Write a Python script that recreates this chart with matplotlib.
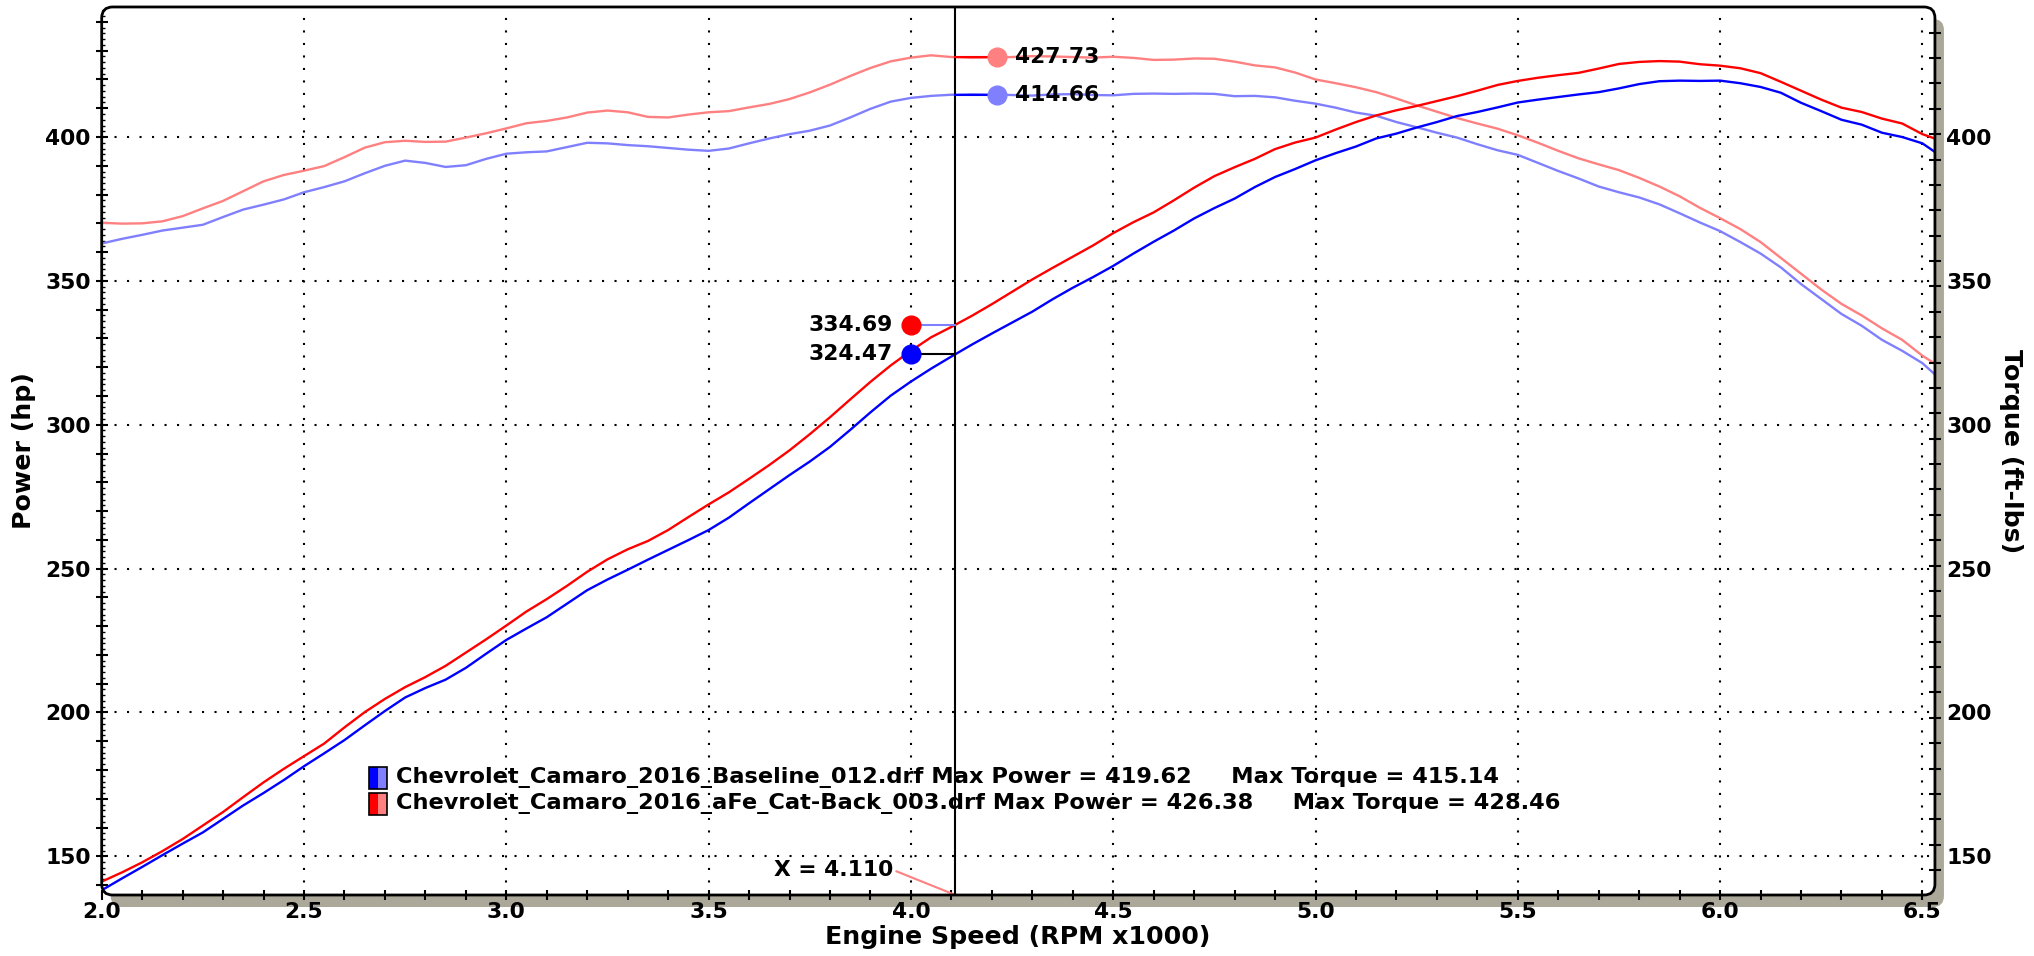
import numpy as np
import matplotlib
matplotlib.use('Agg')
import matplotlib.pyplot as plt
from matplotlib.patches import FancyBboxPatch, Rectangle
from matplotlib.transforms import IdentityTransform
from matplotlib.ticker import MultipleLocator, FixedLocator, FuncFormatter

# engine speed (RPM x1000)
rpm = [2.00, 2.05, 2.10, 2.15, 2.20, 2.25, 2.30, 2.35, 2.40, 2.45,
       2.50, 2.55, 2.60, 2.65, 2.70, 2.75, 2.80, 2.85, 2.90, 2.95,
       3.00, 3.05, 3.10, 3.15, 3.20, 3.25, 3.30, 3.35, 3.40, 3.45,
       3.50, 3.55, 3.60, 3.65, 3.70, 3.75, 3.80, 3.85, 3.90, 3.95,
       4.00, 4.05, 4.10, 4.15, 4.20, 4.25, 4.30, 4.35, 4.40, 4.45,
       4.50, 4.55, 4.60, 4.65, 4.70, 4.75, 4.80, 4.85, 4.90, 4.95,
       5.00, 5.05, 5.10, 5.15, 5.20, 5.25, 5.30, 5.35, 5.40, 5.45,
       5.50, 5.55, 5.60, 5.65, 5.70, 5.75, 5.80, 5.85, 5.90, 5.95,
       6.00, 6.05, 6.10, 6.15, 6.20, 6.25, 6.30, 6.35, 6.40, 6.45,
       6.50, 6.53]

# baseline run
power_base = [138.2, 142.3, 146.3, 150.4, 154.4, 158.3, 163.0, 167.7, 172.0, 176.5,
              181.3, 185.8, 190.4, 195.5, 200.5, 205.2, 208.5, 211.4, 215.5, 220.4,
              225.2, 229.2, 233.1, 237.8, 242.5, 246.2, 249.6, 253.1, 256.5, 259.9,
              263.4, 267.7, 272.7, 277.6, 282.5, 287.2, 292.3, 298.2, 304.3, 310.1,
              315.0, 319.5, 323.7, 327.8, 331.7, 335.5, 339.3, 343.6, 347.6, 351.3,
              355.2, 359.5, 363.6, 367.5, 371.7, 375.3, 378.6, 382.6, 386.1, 388.9,
              391.9, 394.4, 396.7, 399.5, 401.2, 403.3, 405.2, 407.3, 408.7, 410.3,
              412.0, 413.0, 413.9, 414.8, 415.6, 416.9, 418.4, 419.4, 419.6, 419.5,
              419.6, 418.7, 417.4, 415.4, 411.9, 409.0, 406.0, 404.3, 401.5, 400.0,
              397.8, 394.9]
torque_base = [363.0, 364.6, 366.0, 367.5, 368.5, 369.5, 372.2, 374.8, 376.5, 378.3,
               380.8, 382.6, 384.6, 387.4, 390.0, 391.8, 391.0, 389.6, 390.2, 392.4,
               394.2, 394.7, 395.0, 396.5, 398.0, 397.8, 397.2, 396.8, 396.2, 395.6,
               395.2, 396.0, 397.8, 399.5, 401.0, 402.2, 404.0, 406.8, 409.8, 412.3,
               413.6, 414.3, 414.7, 414.9, 414.8, 414.6, 414.4, 414.8, 414.9, 414.6,
               414.5, 415.0, 415.1, 415.0, 415.1, 415.0, 414.2, 414.3, 413.8, 412.6,
               411.6, 410.2, 408.5, 407.4, 405.2, 403.4, 401.5, 399.8, 397.5, 395.4,
               393.8, 391.0, 388.2, 385.6, 382.8, 380.8, 379.0, 376.6, 373.5, 370.3,
               367.3, 363.5, 359.5, 354.7, 348.9, 343.7, 338.5, 334.4, 329.5, 325.7,
               321.4, 317.6]

# aFe cat-back run
power_afe = [141.2, 144.4, 147.9, 151.8, 156.0, 160.7, 165.4, 170.6, 175.7, 180.4,
             184.8, 189.2, 194.8, 200.1, 204.7, 208.8, 212.3, 216.2, 220.8, 225.4,
             230.2, 235.1, 239.4, 244.0, 248.9, 253.2, 256.7, 259.6, 263.4, 267.9,
             272.3, 276.5, 281.2, 286.0, 291.1, 296.7, 302.6, 308.8, 314.9, 320.6,
             325.7, 330.4, 334.0, 337.8, 341.9, 346.2, 350.5, 354.5, 358.4, 362.3,
             366.6, 370.4, 373.8, 378.0, 382.4, 386.4, 389.5, 392.4, 395.8, 398.1,
             399.8, 402.6, 405.2, 407.5, 409.3, 410.8, 412.5, 414.2, 416.1, 418.1,
             419.5, 420.6, 421.5, 422.3, 423.8, 425.4, 426.1, 426.4, 426.2, 425.3,
             424.8, 423.9, 422.2, 419.2, 416.1, 413.0, 410.2, 408.7, 406.4, 404.7,
             401.0, 399.5]
torque_afe = [370.2, 369.9, 370.0, 370.7, 372.5, 375.2, 377.8, 381.2, 384.6, 386.8,
              388.3, 389.9, 393.0, 396.3, 398.2, 398.7, 398.3, 398.4, 399.8, 401.3,
              403.0, 404.8, 405.6, 406.8, 408.5, 409.2, 408.6, 407.0, 406.8, 407.8,
              408.6, 409.0, 410.3, 411.5, 413.2, 415.5, 418.2, 421.2, 424.0, 426.3,
              427.6, 428.4, 427.8, 427.5, 427.6, 427.8, 428.1, 428.0, 427.8, 427.6,
              427.9, 427.5, 426.8, 426.9, 427.3, 427.2, 426.2, 424.9, 424.2, 422.4,
              420.0, 418.7, 417.3, 415.6, 413.4, 411.0, 408.8, 406.6, 404.7, 402.9,
              400.6, 398.0, 395.2, 392.6, 390.5, 388.5, 385.8, 382.8, 379.4, 375.4,
              371.8, 368.0, 363.5, 358.0, 352.5, 347.0, 342.0, 338.0, 333.5, 329.5,
              324.0, 321.3]

run_names = ['Chevrolet_Camaro_2016_Baseline_012.drf', 'Chevrolet_Camaro_2016_aFe_Cat-Back_003.drf']
max_power = [419.62, 426.38]
max_torque = [415.14, 428.46]

cursor_x = 4.110
cursor_power = [324.47, 334.69]
cursor_torque = [414.66, 427.73]

x_ticklabels = [2.0, 2.5, 3.0, 3.5, 4.0, 4.5, 5.0, 5.5, 6.0, 6.5]
y_ticklabels = [150, 200, 250, 300, 350, 400]

dark = ['#0000ff', '#ff0000']
light = ['#8080ff', '#ff8080']

plt.rcParams['font.family'] = 'DejaVu Sans'
plt.rcParams['font.weight'] = 'bold'

fig = plt.figure(figsize=(20.34, 9.56), dpi=100)
ax = fig.add_axes([0.05, 0.0638, 0.9013, 0.9289])
ax2 = ax.twinx()
ax.patch.set_visible(False)
for a in (ax, ax2):
    for s in a.spines.values():
        s.set_visible(False)

xmin, xmax = 2.0, 6.531
ymin, ymax = 136.55, 445.2
ax.set_xlim(xmin, xmax)
ax.set_ylim(ymin, ymax)
ax2.set_ylim(ymin, ymax)

# rounded plot frame with shadow
fw, fh = fig.get_size_inches() * fig.dpi
pos = ax.get_position()
x0, y0, w, h = pos.x0 * fw, pos.y0 * fh, pos.width * fw, pos.height * fh
box = 'round,pad=0,rounding_size=11'
fig.add_artist(FancyBboxPatch((x0 + 9, y0 - 12), w, h, boxstyle=box, transform=IdentityTransform(),
                              facecolor='#aca899', edgecolor='none', zorder=-3))
fig.add_artist(FancyBboxPatch((x0, y0), w, h, boxstyle=box, transform=IdentityTransform(),
                              facecolor='white', edgecolor='none', zorder=-2))
fig.add_artist(FancyBboxPatch((x0, y0), w, h, boxstyle=box, transform=IdentityTransform(),
                              facecolor='none', edgecolor='black', lw=2, zorder=5))

# dotted grid
for xv in x_ticklabels[1:]:
    ax.axvline(xv, color='black', lw=1.5, linestyle=(0, (1, 5)), zorder=1)
for yv in y_ticklabels:
    ax.axhline(yv, color='black', lw=1.5, linestyle=(0, (1, 5)), zorder=1)

# curves
ax.plot(rpm, torque_base, color=light[0], lw=1.7, zorder=3)
ax.plot(rpm, torque_afe, color=light[1], lw=1.7, zorder=3)
ax.plot(rpm, power_base, color=dark[0], lw=1.7, zorder=3)
ax.plot(rpm, power_afe, color=dark[1], lw=1.7, zorder=3)

# cursor
ax.axvline(cursor_x, color='black', lw=1.5, zorder=4)
left_x, right_x = 4.0, 4.213
ax.plot([left_x, cursor_x], [cursor_power[1]] * 2, color=light[0], lw=1.5, zorder=4)
ax.plot([left_x, cursor_x], [cursor_power[0]] * 2, color='black', lw=1.5, zorder=4)
ax.plot([cursor_x, right_x], [cursor_torque[1]] * 2, color=dark[1], lw=1.5, zorder=4)
ax.plot([cursor_x, right_x], [cursor_torque[0]] * 2, color=dark[0], lw=1.5, zorder=4)
for i in range(2):
    ax.plot(left_x, cursor_power[i], 'o', color=dark[i], ms=13.5, zorder=6)
    ax.annotate(f'{cursor_power[i]:.2f}', (left_x, cursor_power[i]), xytext=(-13, 0),
                textcoords='offset points', ha='right', va='center', fontsize=15.7)
    ax.plot(right_x, cursor_torque[i], 'o', color=light[i], ms=13.5, zorder=6)
    ax.annotate(f'{cursor_torque[i]:.2f}', (right_x, cursor_torque[i]), xytext=(13, 0),
                textcoords='offset points', ha='left', va='center', fontsize=15.7)

ax.annotate(f'X = {cursor_x:.3f}', xy=(cursor_x, ymin), xytext=(3.957, 145.2),
            ha='right', va='center', fontsize=15.7,
            arrowprops=dict(arrowstyle='-', color=light[1], lw=1.5, shrinkA=0, shrinkB=0,
                            relpos=(1, 0.5)))

# legend
pw, ph = 0.0098, 0.0245
for i in range(2):
    yc = 0.1318 - i * 0.0293
    ax.add_patch(Rectangle((0.1460, yc - ph / 2), pw / 2, ph, transform=ax.transAxes,
                           facecolor=dark[i], edgecolor='none', zorder=6))
    ax.add_patch(Rectangle((0.1460 + pw / 2, yc - ph / 2), pw / 2, ph, transform=ax.transAxes,
                           facecolor=light[i], edgecolor='none', zorder=6))
    ax.add_patch(Rectangle((0.1460, yc - ph / 2), pw, ph, transform=ax.transAxes,
                           facecolor='none', edgecolor='black', lw=1.2, zorder=7))
    ax.text(0.1605, yc, f'{run_names[i]} Max Power = {max_power[i]:.2f}     Max Torque = {max_torque[i]:.2f}',
            transform=ax.transAxes, ha='left', va='center', fontsize=16.2, zorder=7)

# ticks
ax.xaxis.set_major_locator(MultipleLocator(0.1))
ax.xaxis.set_major_formatter(FuncFormatter(
    lambda v, p: f'{v:.1f}' if abs(v * 2 - round(v * 2)) < 1e-6 else ''))
ax.tick_params(axis='x', which='major', direction='inout', length=7.7, width=1.5, pad=1.5, labelsize=15.7)

ax.yaxis.set_major_locator(MultipleLocator(10))
ax.yaxis.set_minor_locator(MultipleLocator(2))
ax.yaxis.set_major_formatter(FuncFormatter(
    lambda v, p: f'{v:.0f}' if int(round(v)) in y_ticklabels else ''))
ax.tick_params(axis='y', which='major', direction='inout', length=8, width=1.5, pad=4, labelsize=15.7)
ax.tick_params(axis='y', which='minor', direction='in', length=2.5, width=1)

ax2.set_yticks(y_ticklabels)
ax2.yaxis.set_minor_locator(FixedLocator(np.arange(145.2, 445, 8.82)))
ax2.tick_params(axis='y', which='major', length=0, pad=8, labelsize=15.7)
ax2.tick_params(axis='y', which='minor', direction='inout', length=8.5, width=1.5)

fig.text(1018 / fw, 1 - 937 / fh, 'Engine Speed (RPM x1000)', ha='center', va='center', fontsize=18.2)
fig.text(24 / fw, 1 - 451 / fh, 'Power (hp)', ha='center', va='center', rotation=90, fontsize=18.2)
fig.text(2011 / fw, 1 - 451 / fh, 'Torque (ft-lbs)', ha='center', va='center', rotation=270, fontsize=18.2)

fig.savefig('out.png', dpi=100, facecolor='white')
